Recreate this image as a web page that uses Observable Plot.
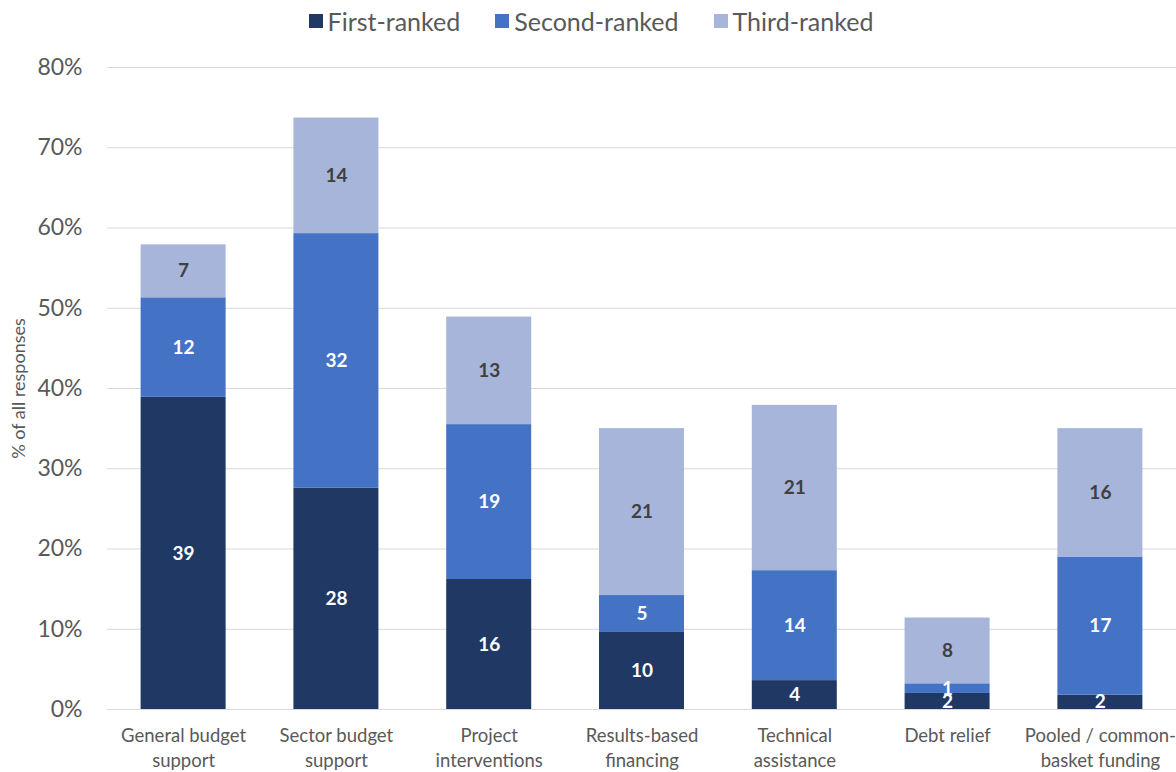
<!DOCTYPE html>
<html>
<head>
<meta charset="utf-8">
<script src="https://cdn.jsdelivr.net/npm/d3@7"></script>
<script src="https://cdn.jsdelivr.net/npm/@observablehq/plot@0.6"></script>
<style>
  html, body { margin: 0; padding: 0; background: #fff; }
  body { width: 1176px; height: 772px; overflow: hidden; font-family: Lato, "Open Sans", sans-serif; }
  #legend { height: 45px; display: flex; justify-content: center; align-items: center; gap: 35px; font-size: 25px; color: #595959; padding-left: 6px; padding-bottom: 4px; box-sizing: border-box; }
  #legend .item { display: flex; align-items: center; gap: 5px; }
  #legend .sw { width: 14px; height: 14px; display: inline-block; }
</style>
</head>
<body>
<div id="legend"></div>
<div id="chart"></div>
<script>
const categories = ["General budget support", "Sector budget support", "Project interventions", "Results-based financing", "Technical assistance", "Debt relief", "Pooled / common-basket funding"];
const tickLabels = ["General budget\nsupport", "Sector budget\nsupport", "Project\ninterventions", "Results-based\nfinancing", "Technical\nassistance", "Debt relief", "Pooled / common-\nbasket funding"];
const series = ["First-ranked", "Second-ranked", "Third-ranked"];
const firstRanked  = [38.9, 27.6, 16.2, 9.6, 3.6, 2.0, 1.8];
const secondRanked = [12.4, 31.7, 19.3, 4.6, 13.7, 1.2, 17.2];
const thirdRanked  = [6.6, 14.4, 13.4, 20.8, 20.6, 8.2, 16.0];
const colors = ["#203864", "#4472C4", "#A7B5DB"];
const labelColors = ["#ffffff", "#ffffff", "#404040"];
const yTicks = [0, 10, 20, 30, 40, 50, 60, 70, 80];

const valuesBySeries = [firstRanked, secondRanked, thirdRanked];
const data = [];
series.forEach((s, si) => {
  categories.forEach((c, ci) => {
    data.push({category: c, series: s, value: valuesBySeries[si][ci], label: String(Math.round(valuesBySeries[si][ci]))});
  });
});

const legend = document.getElementById("legend");
series.forEach((s, i) => {
  const it = document.createElement("div");
  it.className = "item";
  it.innerHTML = `<span class="sw" style="background:${colors[i]}"></span><span>${s}</span>`;
  legend.appendChild(it);
});

const chart = Plot.plot({
  width: 1176,
  height: 727,
  marginTop: 22,
  marginBottom: 63,
  marginLeft: 107,
  marginRight: 0,
  style: {fontFamily: "Lato, 'Open Sans', sans-serif", background: "#fff"},
  x: {domain: categories, paddingInner: 0.4437, paddingOuter: 0.22, round: false},
  y: {domain: [0, 80]},
  color: {domain: series, range: colors},
  marks: [
    Plot.ruleY(yTicks, {stroke: "#d9d9d9", strokeWidth: 1}),
    Plot.barY(data, Plot.stackY({x: "category", y: "value", fill: "series", order: series})),
    Plot.text(data, Plot.stackY({
      x: "category", y: "value", order: series, text: "label",
      fill: d => labelColors[series.indexOf(d.series)],
      fontSize: 19, fontWeight: "bold"
    })),
    Plot.axisY({
      ticks: yTicks, tickFormat: d => d + "%", tickSize: 0, tickPadding: 25,
      fontSize: 23, color: "#595959",
      label: "% of all responses", labelAnchor: "center", labelArrow: "none", labelOffset: 95
    }),
    Plot.axisX({
      tickSize: 0, tickPadding: 15, fontSize: 18.5, color: "#595959",
      tickFormat: d => tickLabels[categories.indexOf(d)], lineHeight: 1.35, label: null
    })
  ]
});
document.getElementById("chart").appendChild(chart);
chart.querySelectorAll("g[aria-label='y-axis label'] text").forEach(t => { t.setAttribute("font-size", 18); });
</script>
</body>
</html>
